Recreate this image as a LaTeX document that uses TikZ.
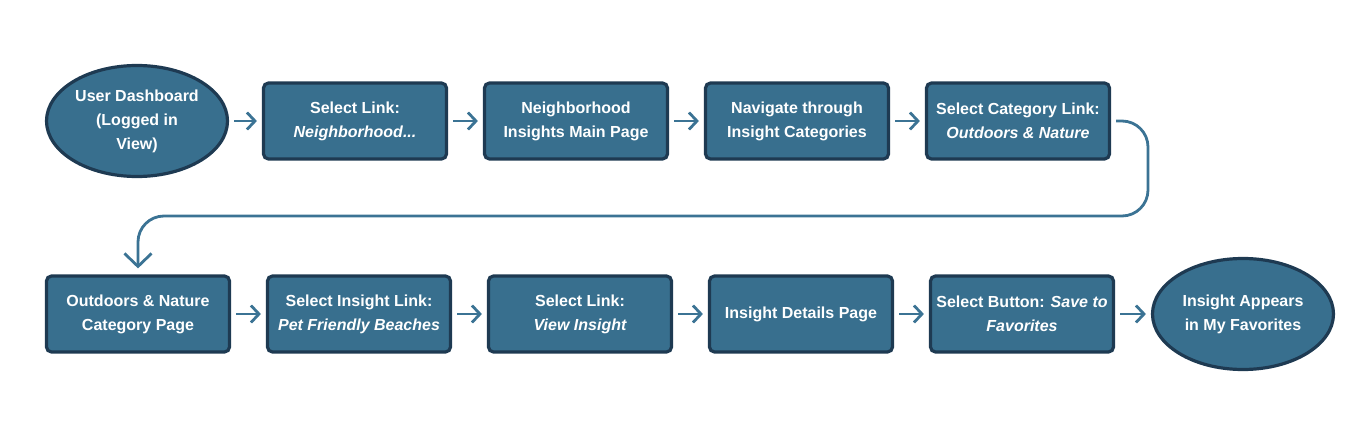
\documentclass[tikz,border=0pt]{standalone}
\usepackage{fontspec}
\setmainfont{Liberation Sans}
\usetikzlibrary{positioning, arrows.meta, shapes.geometric}
\definecolor{boxblue}{HTML}{386F8E}
\definecolor{boxedge}{HTML}{1E3A52}
\definecolor{arrowblue}{HTML}{3B7394}
\tikzset{
flow/.style={->, draw=arrowblue, line width=2.8pt, shorten >=5pt, shorten <=5pt}, % the connectors between pages
>={Straight Barb[length=8pt, width=17pt]}, % open chevron heads
wrap/.style={-{Straight Barb[length=13pt, width=27pt]}}, % bigger head on the row change
pagebox/.style={rectangle, rounded corners=5pt, draw=boxedge, line width=3.2pt, fill=boxblue, minimum width=183pt, minimum height=76pt, align=center, text=white, font=\bfseries\fontsize{16}{24}\selectfont}, % one step of the flow
endpoint/.style={ellipse, draw=boxedge, line width=3.2pt, fill=boxblue, inner sep=0pt, minimum width=181pt, minimum height=111pt, align=center, text=white, font=\bfseries\fontsize{16}{24}\selectfont}, % start and end of the flow
}

\begin{document}
\begin{tikzpicture}[x=1pt, y=-1pt, node distance=221pt, on grid]
    \useasboundingbox (0,0) rectangle (1366,436);

    % first row
    \node[endpoint] (dash) at (137,121) {User Dashboard\\(Logged in\\View)};
    \node[pagebox] (selnb) at (355,121) {Select Link:\\\itshape Neighborhood...};
    \node[pagebox, right=of selnb] (nbmain) {Neighborhood\\Insights Main Page};
    \node[pagebox, right=of nbmain] (navcat) {Navigate through\\Insight Categories};
    \node[pagebox, right=of navcat] (selcat) {Select Category Link:\\\itshape Outdoors \& Nature};

    % second row
    \node[pagebox] (catpage) at (138,314) {Outdoors \& Nature\\Category Page};
    \node[pagebox, right=of catpage] (selins) {Select Insight Link:\\\itshape Pet Friendly Beaches};
    \node[pagebox, right=of selins] (selview) {Select Link:\\\itshape View Insight};
    \node[pagebox, right=of selview] (details) {Insight Details Page};
    \node[pagebox, right=of details] (selsave) {Select Button: \itshape Save to\\\itshape Favorites};
    \node[endpoint, right=of selsave] (fav) {Insight Appears\\in My Favorites};

    \coordinate (turn) at (1148,216);

    \draw[flow]
    (dash) edge (selnb)
    (selnb) edge (nbmain)
    (nbmain) edge (navcat)
    (navcat) edge (selcat);

    \draw[flow, wrap, rounded corners=26pt, shorten >=6pt]
    (selcat.east) -| (turn) -| (catpage.north);

    \draw[flow]
    (catpage) edge (selins)
    (selins) edge (selview)
    (selview) edge (details)
    (details) edge (selsave)
    (selsave) edge (fav);

\end{tikzpicture}
\end{document}
